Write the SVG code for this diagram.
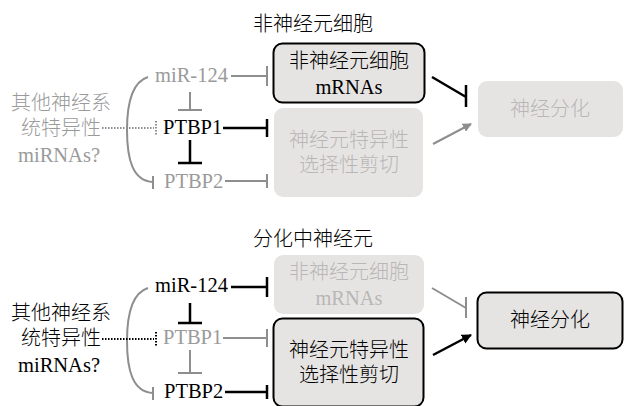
<svg xmlns="http://www.w3.org/2000/svg" width="624" height="406" viewBox="0 0 624 406">
<defs>
<style>
text{font-family:"Liberation Serif","Noto Sans CJK SC",serif;font-size:20px;font-weight:300}
.l{font-size:20.5px;font-weight:400}
.c{text-anchor:middle}
.k{fill:#000}
.g{fill:#9a9a9a}
.lg{fill:#b8b6b6}
.box{fill:#e6e4e3}
.bs{stroke:#000;stroke-width:2}
.lk{stroke:#000;stroke-width:2.5;fill:none}
.lgr{stroke:#8e8e8e;stroke-width:2;fill:none}
.dk{stroke:#000;stroke-width:2;stroke-dasharray:1.5 1.5;fill:none}
.dg{stroke:#8e8e8e;stroke-width:2;stroke-dasharray:1.5 1.5;fill:none}
</style>
<marker id="ak" viewBox="0 0 10 10" refX="9" refY="5" markerWidth="4" markerHeight="4" orient="auto" markerUnits="strokeWidth"><path d="M0,0 L10,5 L0,10 Z" fill="#000"/></marker>
<marker id="ag" viewBox="0 0 10 10" refX="9" refY="5" markerWidth="4.5" markerHeight="4.5" orient="auto" markerUnits="strokeWidth"><path d="M0,0 L10,5 L0,10 Z" fill="#8e8e8e"/></marker>
</defs>

<!-- Top panel -->
<g id="title-top"><text class="c k" x="313" y="31">非神经元细胞</text></g>
<g id="top-nonneural-mrna">
<rect class="box bs" x="273.5" y="43.5" width="151" height="59" rx="9"/>
<text class="c k" x="349" y="68">非神经元细胞</text>
<text class="c k l" x="349" y="94">mRNAs</text>
</g>
<g id="top-splicing">
<rect class="box" x="274" y="108" width="149" height="89" rx="9"/>
<text class="c lg" x="349" y="147">神经元特异性</text>
<text class="c lg" x="349" y="172">选择性剪切</text>
</g>
<g id="top-diff">
<rect class="box" x="478" y="81" width="145" height="56" rx="9"/>
<text class="c lg" x="550" y="116">神经分化</text>
</g>
<g id="top-mirnas">
<text class="c g" x="61" y="110">其他神经系</text>
<text class="c g" x="61" y="135">统特异性</text>
<text class="c g l" x="59" y="162">miRNAs?</text>
</g>
<g id="top-mir124"><text class="g l" x="155" y="82">miR-124</text></g>
<g id="top-ptbp1"><text class="k l" x="163" y="134">PTBP1</text></g>
<g id="top-ptbp2"><text class="g l" x="164" y="188">PTBP2</text></g>

<!-- Bottom panel -->
<g id="title-bottom"><text class="c k" x="313" y="246">分化中神经元</text></g>
<g id="bot-nonneural-mrna">
<rect class="box" x="274" y="255" width="150" height="59" rx="9"/>
<text class="c lg" x="349" y="279">非神经元细胞</text>
<text class="c lg l" x="349" y="305">mRNAs</text>
</g>
<g id="bot-splicing">
<rect class="box bs" x="273.5" y="318.5" width="150" height="88" rx="9"/>
<text class="c k" x="349" y="357">神经元特异性</text>
<text class="c k" x="349" y="382">选择性剪切</text>
</g>
<g id="bot-diff">
<rect class="box bs" x="477.5" y="292.5" width="145" height="56" rx="9"/>
<text class="c k" x="550" y="327">神经分化</text>
</g>
<g id="bot-mirnas">
<text class="c k" x="61" y="320">其他神经系</text>
<text class="c k" x="61" y="345">统特异性</text>
<text class="c k l" x="59" y="372">miRNAs?</text>
</g>
<g id="bot-mir124"><text class="k l" x="155" y="292">miR-124</text></g>
<g id="bot-ptbp1"><text class="g l" x="163" y="344">PTBP1</text></g>
<g id="bot-ptbp2"><text class="k l" x="164" y="398">PTBP2</text></g>

<g id="connectors">
<!-- top -->
<path class="lgr" d="M231,76 H267 M267,66 V86"/>
<path class="lgr" d="M190,92 V110 M178,110 H202"/>
<path class="lk" d="M223,128 H267 M267,119 V137"/>
<path class="lk" d="M190,140 V163 M178,163 H202"/>
<path class="lgr" d="M225,181 H267 M267,174 V188"/>
<path class="lgr" d="M148,77 C132,82 127,105 127,130 C127,160 133,181 153,182 M153,176 V189"/>
<path class="dg" d="M102,128 H154"/>
<path class="dg" d="M156,121 V135"/>
<path class="lk" d="M432,77 L466,97 M466,85 V107"/>
<path class="lgr" d="M433,144 L471,124" marker-end="url(#ag)"/>
<!-- bottom -->
<path class="lk" d="M231,287 H267 M267,277 V297"/>
<path class="lk" d="M190,303 V323 M178,323 H202"/>
<path class="lgr" d="M223,338 H267 M267,329 V347"/>
<path class="lgr" d="M190,350 V373 M178,373 H202"/>
<path class="lk" d="M225,392 H267 M267,385 V399"/>
<path class="lgr" d="M148,288 C132,293 127,316 127,341 C127,371 133,392 153,393 M153,387 V400"/>
<path class="dk" d="M102,339 H154"/>
<path class="dk" d="M156,332 V346"/>
<path class="lgr" d="M432,288 L466,308 M466,297 V318"/>
<path class="lk" d="M433,355 L471,335" marker-end="url(#ak)"/>
</g>
</svg>
